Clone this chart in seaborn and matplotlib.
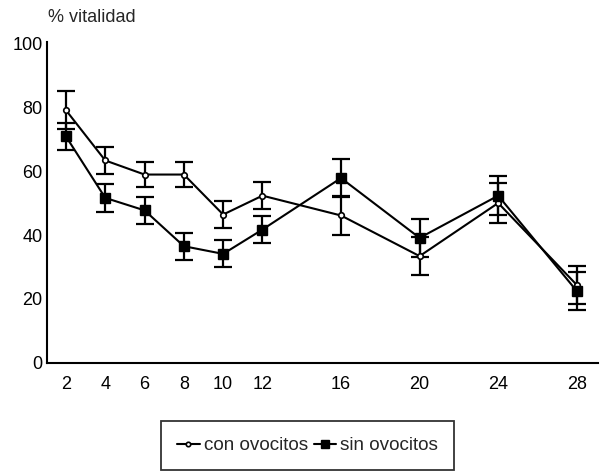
import matplotlib
matplotlib.use("Agg")
import matplotlib.pyplot as plt
import seaborn as sns
import pandas as pd

dias = [2, 4, 6, 8, 10, 12, 16, 20, 24, 28]
con_ovocitos = [79.0, 63.3, 58.9, 58.9, 46.4, 52.3, 46.1, 33.4, 50.0, 24.4]
con_err = [6.0, 4.2, 4.0, 4.0, 4.2, 4.2, 6.0, 6.0, 6.2, 6.0]
sin_ovocitos = [70.8, 51.6, 47.7, 36.5, 34.1, 41.7, 57.8, 39.1, 52.3, 22.5]
sin_err = [4.2, 4.3, 4.2, 4.2, 4.2, 4.2, 6.0, 6.0, 6.2, 6.0]
x_ticks = [2, 4, 6, 8, 10, 12, 16, 20, 24, 28]
y_ticks = [0, 20, 40, 60, 80, 100]

sns.set_style("white")
plt.rcParams["font.family"] = ["Liberation Sans", "DejaVu Sans"]
plt.rcParams["font.size"] = 13

df = pd.concat([
    pd.DataFrame({"dias": dias, "vitalidad": con_ovocitos, "err": con_err, "grupo": "con ovocitos"}),
    pd.DataFrame({"dias": dias, "vitalidad": sin_ovocitos, "err": sin_err, "grupo": "sin ovocitos"}),
], ignore_index=True)

fig = plt.figure(figsize=(6.02, 4.73), dpi=100)
ax = fig.add_axes([0.0786, 0.2326, 0.993 - 0.0786, 0.911 - 0.2326])

styles = {
    "con ovocitos": dict(marker="o", markersize=4, markerfacecolor="white", markeredgecolor="black", markeredgewidth=1.2),
    "sin ovocitos": dict(marker="s", markersize=6.5, markerfacecolor="black", markeredgecolor="black", markeredgewidth=1),
}
for g, sub in df.groupby("grupo", sort=False):
    ax.errorbar(sub["dias"], sub["vitalidad"], yerr=sub["err"], fmt="none",
                ecolor="black", elinewidth=1.6, capsize=6.5, capthick=1.6, zorder=2)
    sns.lineplot(data=sub, x="dias", y="vitalidad", ax=ax, color="black",
                 linewidth=1.5, label=g, zorder=3, **styles[g])

handles, labels = ax.get_legend_handles_labels()
ax.get_legend().remove()
leg = fig.legend(handles, labels, loc="center", bbox_to_anchor=(0.511, 0.058),
                 ncol=2, frameon=True, fancybox=False, edgecolor="black",
                 handlelength=1.2, handletextpad=0.22, columnspacing=0.3,
                 borderpad=0.85, fontsize=13.6, markerscale=0.8)
leg.get_frame().set_linewidth(1.3)

ax.set_xlim(1.05, 29.07)
ax.set_ylim(0, 100.3)
ax.set_xticks(x_ticks)
ax.set_yticks(y_ticks)
ax.set_xlabel("")
ax.set_ylabel("")
ax.tick_params(axis="both", length=0, labelsize=13, colors="black")
ax.tick_params(axis="x", pad=9.5)
ax.tick_params(axis="y", pad=3.5)
for s in ["top", "right"]:
    ax.spines[s].set_visible(False)
for s in ["left", "bottom"]:
    ax.spines[s].set_color("black")
    ax.spines[s].set_linewidth(1.5)

fig.text(48 / 602, 1 - 17 / 473, "% vitalidad", ha="left", va="center", fontsize=13)

fig.savefig("out.png", dpi=100)
